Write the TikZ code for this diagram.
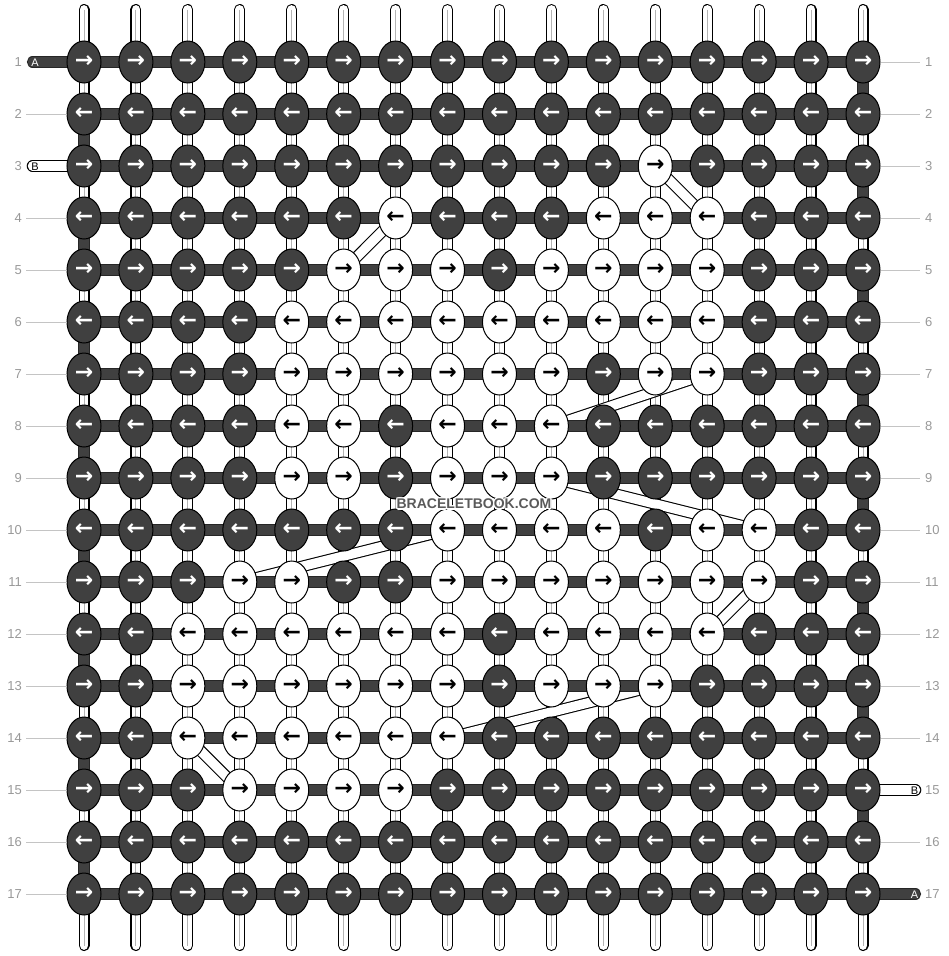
\documentclass[tikz,border=0pt]{standalone}
\usepackage{fontspec}
\setmainfont{Liberation Sans}
\newfontfamily\arrowfont{DejaVu Sans}
\usetikzlibrary{shapes.geometric}
\definecolor{knotdark}{HTML}{404040}
\definecolor{numgray}{HTML}{999999}
\definecolor{linegray}{HTML}{C4C4C4}
\definecolor{centergray}{HTML}{B4B4B4}
\definecolor{wmgray}{HTML}{5A5A5A}
\begin{document}
\begin{tikzpicture}[x=1pt,y=-1pt,
  vout/.style={line width=11, draw=black, line cap=round},
  vin/.style={line width=8.8, draw=white, line cap=round},
  vmid/.style={line width=1, draw=centergray},
  hout/.style={line width=11.2, draw=black!85},
  hin/.style={line width=9.2, draw=knotdark},
  bout/.style={line width=11.6, draw=black},
  bin/.style={line width=9.4, draw=white},
  knotbase/.style={ellipse, draw=black, line width=1, minimum width=34, minimum height=42, inner sep=0,
    font=\arrowfont\bfseries\fontsize{22}{22}\selectfont},
  wknot/.style={knotbase, fill=white, text=black},
  dknot/.style={knotbase, fill=knotdark, text=white},
  numlab/.style={inner sep=0, text=numgray, font=\fontsize{13}{13}\selectfont},
  labline/.style={draw=linegray, line width=1},
  stublab/.style={inner sep=0, font=\fontsize{11}{11}\selectfont},
  wm/.style={inner sep=0, font=\bfseries\fontsize{14}{14}\selectfont}
]
\fill[white] (0,0) rectangle (948,956);
\useasboundingbox (0,0) rectangle (948,956);

% white knot table
\foreach \r/\cs in {3/{12},4/{7,11,12,13},5/{6,7,8,10,11,12,13},6/{5,6,7,8,9,10,11,12,13},
  7/{5,6,7,8,9,10,12,13},8/{5,6,8,9,10},9/{5,6,8,9,10},10/{8,9,10,11,13,14},
  11/{4,5,8,9,10,11,12,13,14},12/{3,4,5,6,7,8,10,11,12,13},13/{3,4,5,6,7,8,10,11,12},
  14/{3,4,5,6,7,8},15/{4,5,6,7}}{
  \foreach \c in \cs {\expandafter\gdef\csname wk-\r-\c\endcsname{}}
}

% knot positions
\foreach \r in {1,...,17}{
  \foreach \c in {1,...,16}{
    \coordinate (p-\r-\c) at ({84+(\c-1)*51.933},{62+(\r-1)*52});
  }
}

% vertical strings
\foreach \c in {1,...,16}{
  \coordinate (vt-\c) at ({84+(\c-1)*51.933},9.5);
  \coordinate (vb-\c) at ({84+(\c-1)*51.933},945.5);
  \draw[vout] (vt-\c) -- (vb-\c);
  \draw[vin] (vt-\c) -- (vb-\c);
  \draw[vmid] (vt-\c) -- (vb-\c);
}

% diagonal carried strings
\foreach \ra/\ca/\rb/\cb in {3/12/4/13, 4/7/5/6, 7/13/8/10, 9/10/10/14, 10/8/11/4, 11/14/12/13, 13/12/14/8, 14/3/15/4}{
  \draw[bout] (p-\ra-\ca) -- (p-\rb-\cb);
  \draw[bin] (p-\ra-\ca) -- (p-\rb-\cb);
}

% stubs coordinates
\coordinate (sA1) at (32.5,62);
\coordinate (sB3) at (32.5,166);
\coordinate (sB15) at (915.5,790);
\coordinate (sA17) at (915.5,894);

% horizontal strings (outline)
\foreach \r in {1,...,17}{\draw[hout] (p-\r-1) -- (p-\r-16);}
\foreach \r in {2,4,...,16}{\pgfmathtruncatemacro\rn{\r+1}\draw[hout] (p-\r-1) -- (p-\rn-1);}
\foreach \r in {1,3,...,15}{\pgfmathtruncatemacro\rn{\r+1}\draw[hout] (p-\r-16) -- (p-\rn-16);}
\draw[hout, line cap=round] (sA1) -- (p-1-1);
\draw[hout, line cap=round] (sA17) -- (p-17-16);
\draw[bout, line cap=round] (sB3) -- (p-3-1);
\draw[bout, line cap=round] (sB15) -- (p-15-16);
% horizontal strings (fill)
\foreach \r in {1,...,17}{\draw[hin] (p-\r-1) -- (p-\r-16);}
\foreach \r in {2,4,...,16}{\pgfmathtruncatemacro\rn{\r+1}\draw[hin] (p-\r-1) -- (p-\rn-1);}
\foreach \r in {1,3,...,15}{\pgfmathtruncatemacro\rn{\r+1}\draw[hin] (p-\r-16) -- (p-\rn-16);}
\draw[hin, line cap=round] (sA1) -- (p-1-1);
\draw[hin, line cap=round] (sA17) -- (p-17-16);
\draw[bin, line cap=round] (sB3) -- (p-3-1);
\draw[bin, line cap=round] (sB15) -- (p-15-16);

% knots
\foreach \r in {1,...,17}{
  \foreach \c in {1,...,16}{
    \ifodd\r \def\arr{→}\else\def\arr{←}\fi
    \ifcsname wk-\r-\c\endcsname
      \node[wknot] (k-\r-\c) at (p-\r-\c) {\arr};
    \else
      \node[dknot] (k-\r-\c) at (p-\r-\c) {\arr};
    \fi
  }
}

% stub labels
\node[stublab, text=white] (labA1) at (35,62.5) {A};
\node[stublab, text=black] (labB3) at (35,166.5) {B};
\node[stublab, text=black] (labB15) at (914.5,790.5) {B};
\node[stublab, text=white] (labA17) at (914.5,894.5) {A};

% row numbers
\foreach \r in {1,...,17}{
  \node[numlab, anchor=east] (ln-\r) at (22,{62+(\r-1)*52}) {\r};
  \node[numlab, anchor=west] (rn-\r) at (925,{62+(\r-1)*52}) {\r};
}
\foreach \r in {2,4,5,...,17}{\draw[labline] ([xshift=4pt]ln-\r.east) -- (k-\r-1.west);}
\foreach \r in {1,...,14,16}{\draw[labline] (k-\r-16.east) -- ([xshift=-5pt]rn-\r.west);}

% watermark
\foreach \dx/\dy in {-1.3/0,1.3/0,0/-1.3,0/1.3,-1/-1,1/1,-1/1,1/-1}{
  \node[wm, text=white] at ({474+\dx},{504+\dy}) {BRACELETBOOK.COM};
}
\node[wm, text=wmgray] (wm) at (474,504) {BRACELETBOOK.COM};
\end{tikzpicture}
\end{document}
